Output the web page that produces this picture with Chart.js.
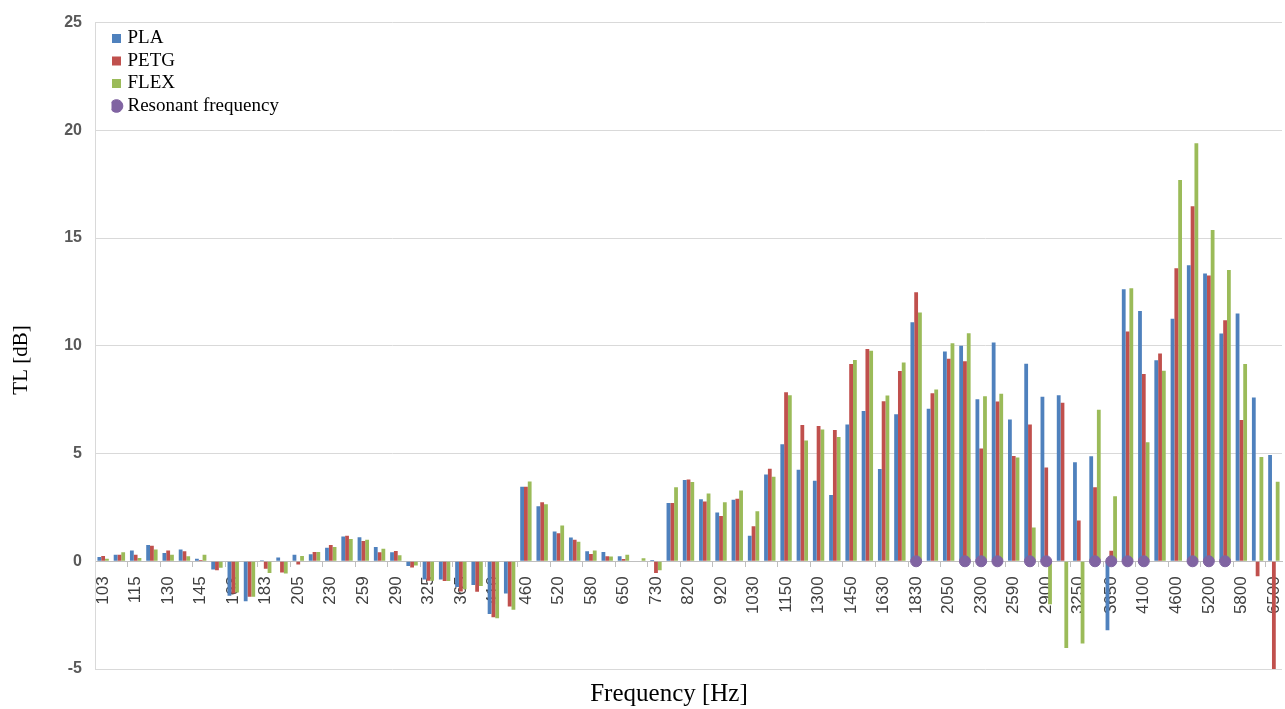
<!DOCTYPE html>
<html>
<head>
<meta charset="utf-8">
<script src="https://cdn.jsdelivr.net/npm/chart.js@4.4.1/dist/chart.umd.min.js"></script>
<style>
  html, body { margin: 0; padding: 0; background: #fff; }
  #wrap { position: relative; width: 1285px; height: 709px; }
</style>
</head>
<body>
<div id="wrap"><canvas id="tlChart"></canvas></div>
<script>
// 1/12 octave bands, every second one is labelled on the axis
const frequencies = [103, 109, 115, 122, 130, 137, 145, 154, 163, 173, 183, 194, 205, 218, 230, 244, 259, 274, 290, 308,
  325, 345, 365, 387, 410, 434, 460, 487, 520, 548, 580, 615, 650, 690, 730, 775, 820, 870, 920, 975,
  1030, 1090, 1150, 1220, 1300, 1380, 1450, 1540, 1630, 1730, 1830, 1940, 2050, 2180, 2300, 2440, 2590, 2740, 2900, 3080,
  3250, 3450, 3650, 3870, 4100, 4340, 4600, 4870, 5200, 5480, 5800, 6150, 6500];

const plaTL = [0.2, 0.3, 0.5, 0.75, 0.38, 0.55, 0.12, -0.38, -1.6, -1.85, 0.05, 0.18, 0.3, 0.32, 0.63, 1.15, 1.12, 0.66, 0.42, -0.22,
  -0.85, -0.85, -1.2, -1.1, -2.45, -1.5, 3.46, 2.55, 1.38, 1.1, 0.46, 0.43, 0.23, 0.02, 0.06, 2.7, 3.77, 2.88, 2.26, 2.86,
  1.18, 4.03, 5.43, 4.25, 3.74, 3.08, 6.35, 6.97, 4.28, 6.82, 11.09, 7.08, 9.74, 10.0, 7.52, 10.15, 6.58, 9.17, 7.63, 7.7,
  4.59, 4.87, -3.2, 12.62, 11.62, 9.33, 11.26, 13.74, 13.36, 10.57, 11.5, 7.6, 4.93];

const petgTL = [0.25, 0.3, 0.3, 0.72, 0.5, 0.46, 0.06, -0.42, -1.5, -1.65, -0.35, -0.52, -0.15, 0.43, 0.75, 1.18, 0.94, 0.42, 0.48, -0.29,
  -0.9, -0.92, -1.4, -1.42, -2.6, -2.1, 3.46, 2.74, 1.3, 1.0, 0.34, 0.23, 0.1, 0.0, -0.54, 2.7, 3.8, 2.77, 2.1, 2.9,
  1.63, 4.29, 7.85, 6.32, 6.28, 6.09, 9.15, 9.85, 7.43, 8.83, 12.48, 7.8, 9.4, 9.28, 5.23, 7.42, 4.88, 6.35, 4.35, 7.36,
  1.89, 3.43, 0.49, 10.66, 8.69, 9.64, 13.6, 16.48, 13.26, 11.18, 6.56, -0.7, -5.0];

const flexTL = [0.12, 0.42, 0.15, 0.55, 0.3, 0.23, 0.3, -0.3, -1.45, -1.65, -0.55, -0.57, 0.25, 0.43, 0.66, 1.03, 1.0, 0.58, 0.28, -0.2,
  -0.9, -0.92, -1.3, -1.15, -2.65, -2.25, 3.7, 2.65, 1.66, 0.9, 0.5, 0.22, 0.3, 0.14, -0.42, 3.43, 3.68, 3.14, 2.74, 3.28,
  2.32, 3.92, 7.7, 5.6, 6.12, 5.77, 9.34, 9.77, 7.69, 9.22, 11.54, 7.97, 10.12, 10.58, 7.66, 7.78, 4.82, 1.57, -2.0, -4.02,
  -3.82, 7.03, 3.02, 12.67, 5.52, 8.84, 17.7, 19.4, 15.38, 13.52, 9.15, 4.84, 3.69];

const resonantFreqs = [1830, 2180, 2300, 2440, 2740, 2900, 3450, 3650, 3870, 4100, 4870, 5200, 5480];

const yTicks = [-5, 0, 5, 10, 15, 20, 25];

const resonantData = frequencies.map(f => resonantFreqs.includes(f) ? 0 : null);

// axis titles are drawn by hand, they sit off-centre in the original
const axisTitles = {
    id: 'axisTitles',
    afterDraw(chart) {
        const c = chart.ctx;
        c.save();
        c.fillStyle = '#000';
        c.textAlign = 'center';
        c.textBaseline = 'middle';
        c.font = '25px "Liberation Serif"';
        c.fillText('Frequency [Hz]', 669, 694);
        c.translate(21, 360);
        c.rotate(-Math.PI / 2);
        c.font = '21px "Liberation Serif"';
        c.fillText('TL [dB]', 0, 0);
        c.restore();
    }
};

// push the legend into the top left corner of the plot
const legendNudge = {
    id: 'legendNudge',
    afterLayout(chart) {
        const lg = chart.legend;
        lg.left += 16.5;
        lg.top += 25.5;
        lg.bottom += 25.5;
    }
};

const ctx = document.getElementById('tlChart').getContext('2d');
new Chart(ctx, {
    type: 'bar',
    data: {
        labels: frequencies,
        datasets: [
            { label: 'PLA', data: plaTL, backgroundColor: '#4F81BD', pointStyle: 'rect', order: 1 },
            { label: 'PETG', data: petgTL, backgroundColor: '#C0504D', pointStyle: 'rect', order: 1 },
            { label: 'FLEX', data: flexTL, backgroundColor: '#9BBB59', pointStyle: 'rect', order: 1 },
            {
                type: 'line',
                label: 'Resonant frequency',
                data: resonantData,
                showLine: false,
                pointStyle: 'circle',
                pointRadius: 5.5,
                pointBackgroundColor: '#8064A2',
                pointBorderColor: '#8064A2',
                backgroundColor: '#8064A2',
                borderColor: '#8064A2',
                order: 0
            }
        ]
    },
    options: {
        responsive: true,
        maintainAspectRatio: false,
        animation: false,
        layout: { autoPadding: false, padding: { top: 20, right: 3, bottom: 40, left: 0 } },
        datasets: { bar: { categoryPercentage: 0.7, barPercentage: 1.0 } },
        plugins: {
            tooltip: { enabled: false },
            legend: {
                position: 'chartArea',
                align: 'start',
                labels: {
                    usePointStyle: true,
                    boxWidth: 3,
                    boxHeight: 9,
                    padding: 3.5,
                    color: '#000',
                    font: { family: '"Liberation Serif"', size: 19, lineHeight: 1 },
                    sort: (a, b) => a.datasetIndex - b.datasetIndex
                }
            }
        },
        scales: {
            x: {
                type: 'category',
                position: { y: 0 },
                offset: true,
                afterFit: s => { s.paddingLeft = 0; s.paddingRight = 0; },
                grid: {
                    offset: true,
                    drawOnChartArea: false,
                    tickLength: 5,
                    tickColor: c => c.index % 2 === 0 ? '#bfbfbf' : 'rgba(0,0,0,0)'
                },
                border: { color: '#bfbfbf' },
                ticks: {
                    autoSkip: false,
                    minRotation: 90,
                    maxRotation: 90,
                    padding: 10,
                    color: '#404040',
                    font: { family: '"Liberation Sans"', size: 17 },
                    callback: function (val, i) { return i % 2 === 0 ? this.getLabelForValue(val) : ''; }
                }
            },
            y: {
                min: -5,
                max: 25,
                afterBuildTicks: s => { s.ticks = yTicks.map(v => ({ value: v })); },
                afterFit: s => { s.width = 95; },
                grid: { color: '#d9d9d9', drawTicks: false },
                border: { color: '#d9d9d9' },
                ticks: {
                    padding: 13,
                    color: '#595959',
                    font: { family: '"Liberation Sans"', size: 16, weight: 'bold' }
                }
            }
        }
    },
    plugins: [axisTitles, legendNudge]
});
</script>
</body>
</html>
